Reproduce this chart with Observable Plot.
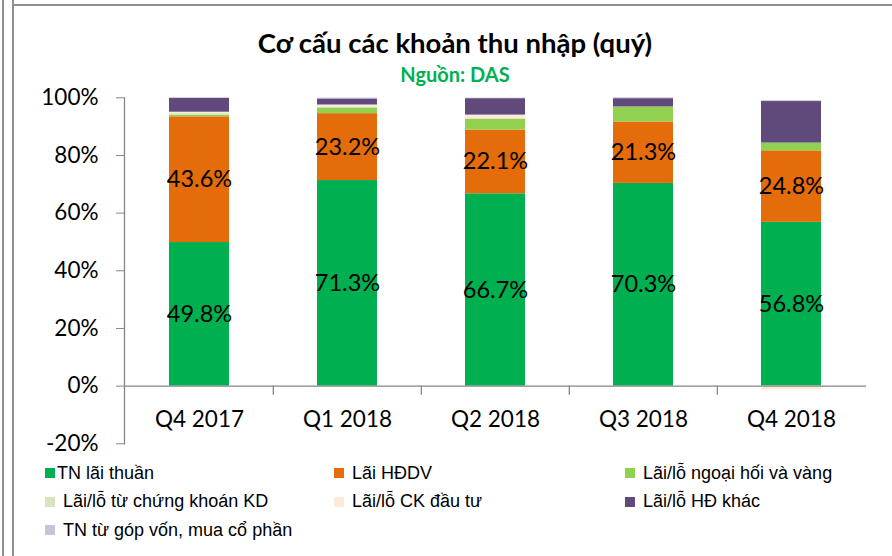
<!DOCTYPE html>
<html>
<head>
<meta charset="utf-8">
<script src="https://cdn.jsdelivr.net/npm/d3@7"></script>
<script src="https://cdn.jsdelivr.net/npm/@observablehq/plot@0.6"></script>
<style>
  html, body { margin: 0; padding: 0; background: #fff; }
  #wrap { position: relative; width: 892px; height: 556px; overflow: hidden; background: #fff; }
  .vline { position: absolute; top: 0; width: 1.5px; height: 556px; background: #8f8f8f; }
  .hline { position: absolute; left: 12px; top: 4px; width: 880px; height: 1.5px; background: #8f8f8f; }
  #head { position: relative; height: 68px; }
  #title { position: absolute; left: 455px; top: 27px; transform: translateX(-50%); white-space: nowrap; z-index: 2;
           font-family: Lato, sans-serif; font-weight: 700; font-size: 27.5px; line-height: 32px; color: #000; }
  #sub { position: absolute; left: 455px; top: 63px; transform: translateX(-50%); white-space: nowrap; z-index: 2;
         font-family: Lato, sans-serif; font-weight: 700; font-size: 20px; line-height: 22px; color: #00B050; }
  #chart svg { display: block; }
  #legend { display: grid; grid-template-columns: 289px 291px 1fr; grid-auto-rows: 28.5px;
            padding-left: 45px; margin-top: 2px; font-family: "Liberation Sans", Arial, sans-serif; font-size: 18px; color: #000; }
  .item { display: flex; align-items: center; white-space: nowrap; }
  .sw { width: 10px; height: 10px; flex: none; }
</style>
</head>
<body>
<div id="wrap">
  <div class="vline" style="left:2px"></div>
  <div class="vline" style="left:12px"></div>
  <div class="hline"></div>
  <div id="head">
    <div id="title">Cơ cấu các khoản thu nhập (quý)</div>
    <div id="sub">Nguồn: DAS</div>
  </div>
  <div id="chart"></div>
  <div id="legend"></div>
</div>
<script>
// ---- data ----
const categories = ["Q4 2017", "Q1 2018", "Q2 2018", "Q3 2018", "Q4 2018"];
const seriesNames = [
  "TN lãi thuần",
  "Lãi HĐDV",
  "Lãi/lỗ ngoại hối và vàng",
  "Lãi/lỗ từ chứng khoán KD",
  "Lãi/lỗ CK đầu tư",
  "Lãi/lỗ HĐ khác",
  "TN từ góp vốn, mua cổ phần"
];
const seriesColors = ["#00B050", "#E46C0A", "#92D050", "#D7E4BD", "#FDEADA", "#604A7B", "#CCC1DA"];
const tnLaiThuan = [49.8, 71.3, 66.7, 70.3, 56.8];
const laiHDDV    = [43.6, 23.2, 22.1, 21.3, 24.8];
const ngoaiHoi   = [0.6, 2.0, 3.7, 5.1, 2.7];
const ckKD       = [0.5, 0.2, 0.3, 0.1, 0.0];
const ckDauTu    = [0.5, 0.8, 1.2, 0.0, -1.3];
const hdKhac     = [4.8, 2.1, 5.7, 2.9, 14.4];
const gopVon     = [0.2, 0.3, 0.2, 0.3, 0.3];
const labeledSeries = ["TN lãi thuần", "Lãi HĐDV"];
const yTicks = [-20, 0, 20, 40, 60, 80, 100];

const seriesValues = [tnLaiThuan, laiHDDV, ngoaiHoi, ckKD, ckDauTu, hdKhac, gopVon];
const rows = [];
categories.forEach((c, i) => {
  seriesNames.forEach((s, j) => rows.push({cat: c, series: s, value: seriesValues[j][i]}));
});

const W = 892, mL = 124, mR = 26;
const step = (W - mL - mR) / categories.length;
const pad = 1 - 60 / step;
const gray = "#868686";

const plot = Plot.plot({
  width: W,
  height: 389,
  marginLeft: mL,
  marginRight: mR,
  marginTop: 29.3,
  marginBottom: 13.7,
  style: {fontFamily: "Lato, sans-serif", fontSize: "22px", color: "#000", background: "transparent"},
  x: {domain: categories, paddingInner: pad, paddingOuter: pad / 2, label: null},
  y: {domain: [-20, 100], label: null},
  color: {domain: seriesNames, range: seriesColors},
  marks: [
    Plot.barY(rows, {x: "cat", y: "value", z: "series", fill: "series", order: seriesNames}),
    Plot.ruleY([0], {stroke: gray, strokeWidth: 1.3}),
    Plot.ruleX(categories.slice(1), {x: d => d, y1: 0, y2: 0, insetBottom: -9, dx: -step / 2, stroke: gray, strokeWidth: 1.3}),
    Plot.frame({anchor: "left", stroke: gray, strokeWidth: 1.3}),
    Plot.axisY({ticks: yTicks, tickFormat: d => d + "%", tickSize: 8, tickPadding: 18, stroke: gray, fontSize: 22.5, label: null}),
    Plot.axisX({tickSize: 0, tickPadding: 0, dy: -33, fontSize: 22.5, label: null}),
    Plot.text(rows, Plot.stackY({x: "cat", y: "value", z: "series", order: seriesNames,
      text: d => labeledSeries.includes(d.series) ? d.value.toFixed(1) + "%" : null,
      fontSize: 23.5, fill: "#000"}))
  ]
});
document.getElementById("chart").appendChild(plot);

// legend
const legend = document.getElementById("legend");
seriesNames.forEach((s, j) => {
  const it = document.createElement("div");
  it.className = "item";
  const sw = document.createElement("span");
  sw.className = "sw";
  sw.style.background = seriesColors[j];
  const t = document.createElement("span");
  t.textContent = s;
  t.style.marginLeft = j === 0 ? "2px" : "8px";
  it.appendChild(sw); it.appendChild(t);
  legend.appendChild(it);
});
</script>
</body>
</html>
